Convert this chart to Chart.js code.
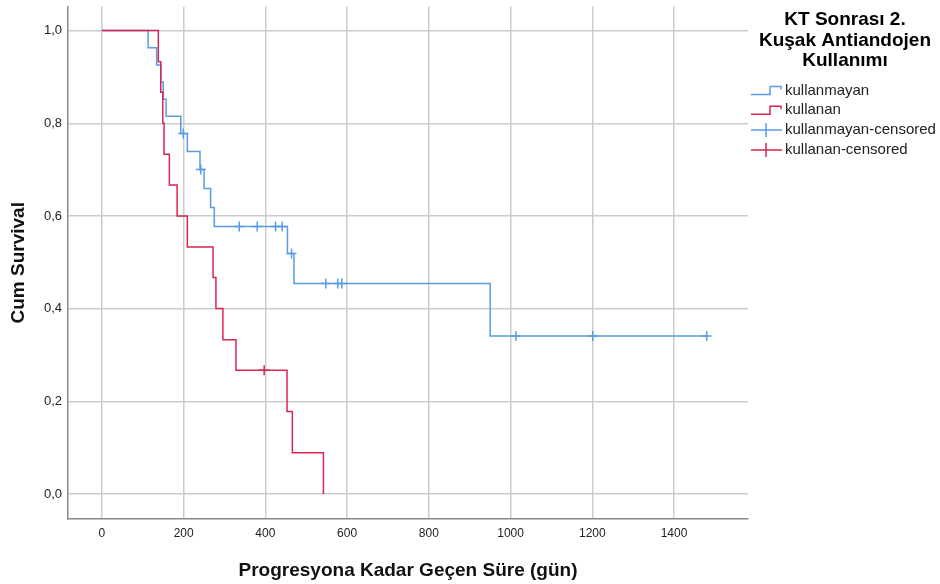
<!DOCTYPE html>
<html>
<head>
<meta charset="utf-8">
<script src="https://cdn.jsdelivr.net/npm/chart.js@4.4.1/dist/chart.umd.min.js"></script>
<style>
  body { margin: 0; background: #fff; }
  #wrap { width: 940px; height: 584px; }
</style>
</head>
<body>
<div id="wrap"><canvas id="kmChart" width="940" height="584"></canvas></div>
<script>
// Kaplan-Meier steps: time (days) and cumulative survival after each step
const kullanmayanTimes = [0, 113, 134, 144, 150, 157, 193, 209, 240, 250, 266, 275, 454, 470, 950, 1480];
const kullanmayanSurv = [1, 0.963, 0.926, 0.889, 0.852, 0.815, 0.778, 0.739, 0.700, 0.659, 0.618, 0.577, 0.519, 0.454, 0.341, 0.341];
const kullanmayanCensTimes = [199, 242, 336, 380, 425, 441, 464, 548, 577, 587, 1013, 1201, 1480];
const kullanmayanCensSurv = [0.778, 0.700, 0.577, 0.577, 0.577, 0.577, 0.519, 0.454, 0.454, 0.454, 0.341, 0.341, 0.341];

const kullananTimes = [0, 138, 144, 149, 152, 165, 184, 209, 272, 279, 296, 328, 453, 466, 542];
const kullananSurv = [1, 0.933, 0.867, 0.800, 0.733, 0.667, 0.600, 0.533, 0.467, 0.400, 0.333, 0.267, 0.178, 0.089, 0];
const kullananCensTimes = [397];
const kullananCensSurv = [0.267];

const xTicks = [0, 200, 400, 600, 800, 1000, 1200, 1400];
const yTicks = [0, 0.2, 0.4, 0.6, 0.8, 1.0];

const legendTitle = ['KT Sonrası 2.', 'Kuşak Antiandojen', 'Kullanımı'];
const legendLabels = ['kullanmayan', 'kullanan', 'kullanmayan-censored', 'kullanan-censored'];

const BLUE = '#5b9be4';
const RED = '#d9254f';
const FONT = '"Liberation Sans", Arial, sans-serif';

const toPoints = (xs, ys) => xs.map((x, i) => ({ x: x, y: ys[i] }));

// right-hand legend: bold group title plus step / cross icons
const legendBox = {
  id: 'legendBox',
  afterDraw(chart) {
    const ctx = chart.ctx;
    ctx.save();
    ctx.fillStyle = '#000';
    ctx.font = 'bold 19px ' + FONT;
    ctx.textAlign = 'center';
    ctx.textBaseline = 'alphabetic';
    legendTitle.forEach((line, i) => ctx.fillText(line, 845, 25 + i * 20.5));

    const colors = [BLUE, RED, BLUE, RED];
    ctx.font = '15px ' + FONT;
    ctx.textAlign = 'left';
    ctx.textBaseline = 'middle';
    legendLabels.forEach((label, i) => {
      const y = 90.5 + i * 19.8;
      ctx.strokeStyle = colors[i];
      ctx.lineWidth = 1.5;
      ctx.beginPath();
      if (i < 2) {
        ctx.moveTo(751, y + 4);
        ctx.lineTo(770, y + 4);
        ctx.lineTo(770, y - 4);
        ctx.lineTo(781, y - 4);
        ctx.lineTo(781, y - 1);
      } else {
        ctx.moveTo(751, y);
        ctx.lineTo(782, y);
        ctx.moveTo(766, y - 7);
        ctx.lineTo(766, y + 7);
      }
      ctx.stroke();
      ctx.fillStyle = '#222';
      ctx.fillText(label, 785, y);
    });
    ctx.restore();
  }
};

const ctx = document.getElementById('kmChart').getContext('2d');
const kmChart = new Chart(ctx, {
    type: 'line',
    data: {
        datasets: [{
            label: legendLabels[0],
            data: toPoints(kullanmayanTimes, kullanmayanSurv),
            borderColor: BLUE,
            borderWidth: 1.5,
            stepped: true,
            pointRadius: 0,
            fill: false,
            order: 3
        }, {
            label: legendLabels[1],
            data: toPoints(kullananTimes, kullananSurv),
            borderColor: RED,
            borderWidth: 1.5,
            stepped: true,
            pointRadius: 0,
            fill: false,
            order: 2
        }, {
            label: legendLabels[2],
            data: toPoints(kullanmayanCensTimes, kullanmayanCensSurv),
            showLine: false,
            pointStyle: 'cross',
            pointRadius: 5,
            borderColor: BLUE,
            pointBorderWidth: 1.5,
            order: 1
        }, {
            label: legendLabels[3],
            data: toPoints(kullananCensTimes, kullananCensSurv),
            showLine: false,
            pointStyle: 'cross',
            pointRadius: 5,
            borderColor: RED,
            pointBorderWidth: 1.5,
            order: 0
        }]
    },
    options: {
        responsive: false,
        animation: false,
        layout: { padding: { top: 1, right: 192, left: 0, bottom: 0 } },
        plugins: {
            legend: { display: false },
            tooltip: { enabled: false }
        },
        scales: {
            x: {
                type: 'linear',
                min: -83,
                max: 1581,
                afterFit: (scale) => {
                    scale.height = 65;
                    scale.paddingLeft = 0;
                    scale.paddingRight = 0;
                },
                afterBuildTicks: (scale) => { scale.ticks = xTicks.map(v => ({ value: v })); },
                ticks: {
                    callback: (v) => String(v),
                    color: '#222',
                    padding: 7,
                    font: { family: FONT, size: 12 }
                },
                grid: { color: '#cccccc', lineWidth: 1.5, drawTicks: false },
                border: { display: true, color: '#888', width: 1.5 },
                title: {
                    display: true,
                    text: 'Progresyona Kadar Geçen Süre (gün)',
                    color: '#111',
                    font: { family: FONT, size: 19, weight: 'bold' },
                    padding: { top: 0, bottom: 2 }
                }
            },
            y: {
                min: -0.054,
                max: 1.052,
                afterFit: (scale) => {
                    scale.width = 68;
                    scale.paddingTop = 0;
                    scale.paddingBottom = 0;
                },
                afterBuildTicks: (scale) => { scale.ticks = yTicks.map(v => ({ value: v })); },
                ticks: {
                    callback: (v) => (Math.round(v * 10) / 10).toFixed(1).replace('.', ','),
                    color: '#222',
                    padding: 6,
                    font: { family: FONT, size: 13 }
                },
                grid: { color: '#cccccc', lineWidth: 1.5, drawTicks: false },
                border: { display: true, color: '#888', width: 1.5 },
                title: {
                    display: true,
                    text: 'Cum Survival',
                    color: '#111',
                    font: { family: FONT, size: 19, weight: 'bold' },
                    padding: { top: 7, bottom: 0 }
                }
            }
        }
    },
    plugins: [legendBox]
});
</script>
</body>
</html>
